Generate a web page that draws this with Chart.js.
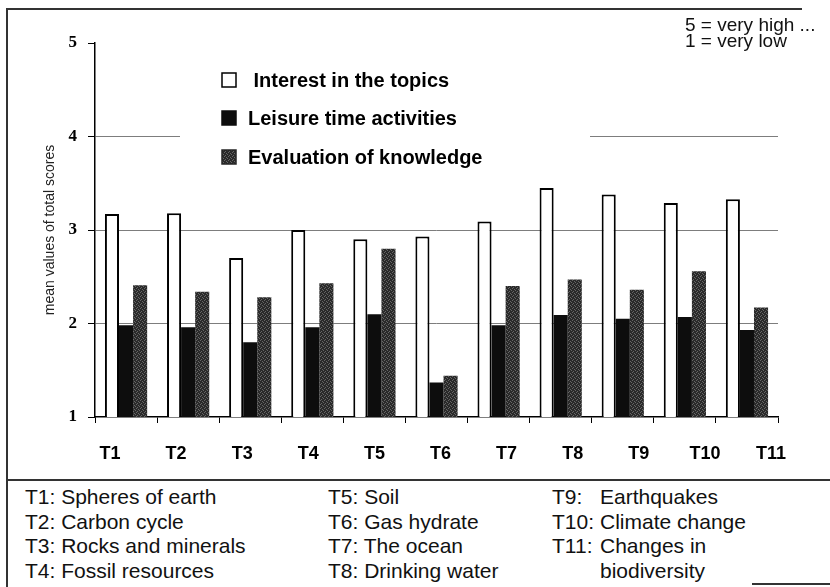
<!DOCTYPE html>
<html>
<head>
<meta charset="utf-8">
<script src="https://cdn.jsdelivr.net/npm/chart.js@4.4.1/dist/chart.umd.min.js"></script>
<style>
  html, body { margin: 0; padding: 0; background: #fff; }
  #page { position: relative; width: 830px; height: 587px; background: #fff; overflow: hidden; font-family: "Liberation Sans", Arial, sans-serif; color: #111; }
  #chartBox { position: absolute; left: 0; top: 0; width: 830px; height: 480px; }
  .rule { position: absolute; background: #333; }
  .note { position: absolute; left: 685px; top: 17px; font-size: 19px; line-height: 16px; white-space: pre; }
  .col { position: absolute; top: 485px; font-size: 21px; line-height: 24.5px; white-space: nowrap; }
  .row { display: flex; }
  .pre { display: inline-block; width: 48px; }
</style>
</head>
<body>
<div id="page">
  <div id="chartBox"><canvas id="chart" width="830" height="480"></canvas></div>

  <!-- frame lines -->
  <div class="rule" style="left:6px; top:8px; width:796px; height:1.5px;"></div>
  <div class="rule" style="left:6px; top:8px; width:1.5px; height:579px;"></div>
  <div class="rule" style="left:6px; top:479px; width:824px; height:1.5px;"></div>
  <div class="rule" style="left:752px; top:583px; width:78px; height:1.5px;"></div>

  <div class="note">5 = very high ...
1 = very low</div>

  <div class="col" style="left:25px;">
    <div>T1: Spheres of earth</div>
    <div>T2: Carbon cycle</div>
    <div>T3: Rocks and minerals</div>
    <div>T4: Fossil resources</div>
  </div>
  <div class="col" style="left:328px;">
    <div>T5: Soil</div>
    <div>T6: Gas hydrate</div>
    <div>T7: The ocean</div>
    <div>T8: Drinking water</div>
  </div>
  <div class="col" style="left:552px;">
    <div class="row"><span class="pre">T9:</span><span>Earthquakes</span></div>
    <div class="row"><span class="pre">T10:</span><span>Climate change</span></div>
    <div class="row"><span class="pre">T11:</span><span>Changes in</span></div>
    <div class="row"><span class="pre"></span><span>biodiversity</span></div>
  </div>
</div>

<script>
// Topics on the x axis
const topics = ['T1', 'T2', 'T3', 'T4', 'T5', 'T6', 'T7', 'T8', 'T9', 'T10', 'T11'];

// Mean values of total scores per topic (scale 1 = very low ... 5 = very high)
const interest  = [3.17, 3.18, 2.70, 3.00, 2.90, 2.93, 3.09, 3.45, 3.38, 3.29, 3.33];
const leisure   = [1.98, 1.96, 1.80, 1.96, 2.10, 1.37, 1.98, 2.09, 2.05, 2.07, 1.93];
const knowledge = [2.41, 2.34, 2.28, 2.43, 2.80, 1.44, 2.40, 2.47, 2.36, 2.56, 2.17];

// Series names and value-axis ticks
const seriesNames = [' Interest in the topics', 'Leisure time activities', 'Evaluation of knowledge'];
const yTicks = [1, 2, 3, 4, 5];

// Stippled dark grey fill for the knowledge bars
function stipple() {
  const c = document.createElement('canvas');
  c.width = 4; c.height = 4;
  const g = c.getContext('2d');
  g.fillStyle = '#2a2a2a';
  g.fillRect(0, 0, 4, 4);
  g.fillStyle = '#666666';
  [[0, 0], [2, 1], [1, 3], [3, 2]].forEach(([x, y]) => g.fillRect(x, y, 1, 1));
  return g.createPattern(c, 'repeat');
}
const greyFill = stipple();

const fills   = ['#ffffff', '#0d0d0d', greyFill];
const strokes = ['#000000', '#0d0d0d', '#262626'];
const widths  = [2, 0, 0];

// Legend block drawn inside the plot, on a white panel over the gridlines
const boxLegend = {
  id: 'boxLegend',
  beforeDatasetsDraw(chart) {
    const { ctx, chartArea: a } = chart;
    ctx.save();
    ctx.fillStyle = '#fff';
    ctx.fillRect(a.left + 85, 58, 410, 116);
    const rows = [80, 118, 157];
    chart.data.datasets.forEach((ds, i) => {
      const y = rows[i];
      const x = a.left + 127;
      ctx.fillStyle = fills[i];
      ctx.fillRect(x, y - 7, 14, 14);
      ctx.lineWidth = 1.5;
      ctx.strokeStyle = strokes[i];
      ctx.strokeRect(x, y - 7, 14, 14);
      ctx.fillStyle = '#000';
      ctx.font = 'bold 20px "Liberation Sans", Arial, sans-serif';
      ctx.textBaseline = 'middle';
      ctx.fillText(ds.label, x + 26, y + 1);
    });
    ctx.restore();
  }
};

new Chart(document.getElementById('chart'), {
  type: 'bar',
  data: {
    labels: topics,
    datasets: [interest, leisure, knowledge].map((vals, i) => ({
      label: seriesNames[i],
      data: vals,
      backgroundColor: fills[i],
      borderColor: strokes[i],
      borderWidth: widths[i],
      borderSkipped: 'start',
      barPercentage: 1.0,
      categoryPercentage: 0.68,
      xAxisID: 'x',
      yAxisID: 'y'
    }))
  },
  options: {
    responsive: false,
    animation: false,
    devicePixelRatio: 1,
    layout: { padding: { left: 0, right: 52, top: 43, bottom: 0 } },
    plugins: { legend: { display: false }, tooltip: { enabled: false } },
    scales: {
      y: {
        min: 1, max: 5,
        afterBuildTicks: s => { s.ticks = yTicks.map(v => ({ value: v })); },
        afterFit: s => { s.width = 95; },
        border: { display: true, color: '#000', width: 1.5 },
        grid: {
          drawTicks: true,
          tickLength: 7,
          tickColor: '#000',
          lineWidth: 1,
          color: ctx => (ctx.tick && [2, 3, 4].includes(ctx.tick.value)) ? '#7d7d7d' : 'rgba(0,0,0,0)'
        },
        ticks: {
          color: '#000',
          padding: 11,
          font: { family: '"Liberation Serif", "Times New Roman", serif', size: 17, weight: 'bold' }
        },
        title: {
          display: true,
          text: 'mean values of total scores',
          color: '#222',
          font: { family: '"Liberation Sans", Arial, sans-serif', size: 14 },
          padding: { top: 42, bottom: 0 }
        }
      },
      x: {
        type: 'category',
        offset: true,
        afterFit: s => { s.height = 6; },
        border: { display: true, color: '#000', width: 1.5 },
        grid: { offset: true, drawOnChartArea: false, drawTicks: true, tickLength: 6, tickColor: '#000', color: '#000' },
        ticks: { display: false }
      },
      // Topic names under the bars, spread slightly wider than the bar groups
      topicAxis: {
        type: 'linear',
        position: 'bottom',
        offset: false,
        min: 0.773, max: 11.106,
        afterBuildTicks: s => { s.ticks = topics.map((_, i) => ({ value: i + 1 })); },
        afterFit: s => { s.height = 57; },
        border: { display: false },
        grid: { display: false, drawTicks: false },
        ticks: {
          autoSkip: false,
          maxRotation: 0,
          padding: 20,
          color: '#000',
          font: { family: '"Liberation Sans", Arial, sans-serif', size: 18, weight: 'bold' },
          callback: v => topics[v - 1] ?? ''
        }
      }
    }
  },
  plugins: [boxLegend]
});
</script>
</body>
</html>
